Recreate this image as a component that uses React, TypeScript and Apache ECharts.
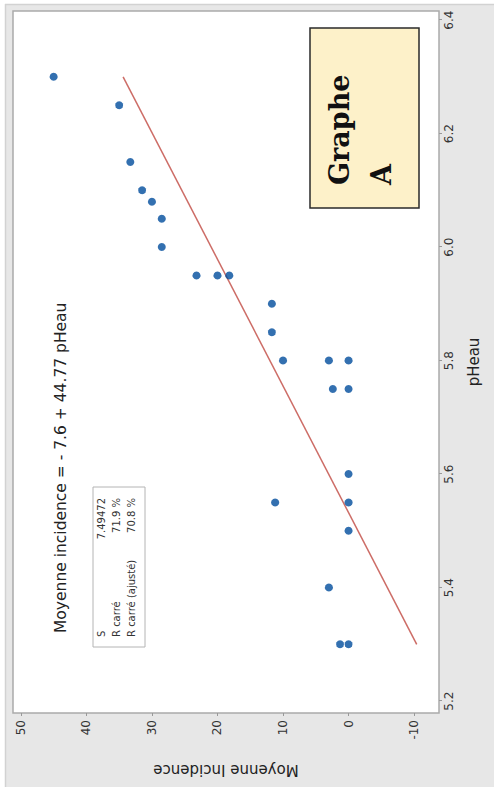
import React, { useEffect, useRef } from "react";
import * as echarts from "echarts";

// Data (pHeau vs Moyenne incidence)
const PH = [6.30, 6.25, 6.15, 6.10, 6.08, 6.05, 6.00, 5.95, 5.95, 5.95, 5.90, 5.85, 5.80, 5.80, 5.80, 5.75, 5.75, 5.60, 5.55, 5.55, 5.50, 5.40, 5.30, 5.30];
const INCIDENCE = [45, 35, 33.3, 31.5, 30, 28.5, 28.5, 23.2, 20, 18.2, 11.7, 11.7, 10, 3, 0, 2.4, 0, 0, 11.2, 0, 0, 3, 1.3, 0];
const FIT_PH = [5.3, 6.3];
const FIT_INC = [-10.4, 34.4];
const PH_TICKS = [5.2, 5.4, 5.6, 5.8, 6.0, 6.2, 6.4];
const INC_TICKS = [-10, 0, 10, 20, 30, 40, 50];
const STAT_LABELS = ["S", "R carré", "R carré (ajusté)"];
const STAT_VALUES = ["7.49472", "71.9 %", "70.8 %"];
const EQUATION = "Moyenne incidence = - 7.6 + 44.77 pHeau";
const X_NAME = "pHeau";
const Y_NAME = "Moyenne Incidence";

const W = 787;
const H = 494;
const FONT = "'DejaVu Sans', sans-serif";

export default function App() {
  const ref = useRef<HTMLDivElement>(null);

  useEffect(() => {
    if (!ref.current) return;
    const chart = echarts.init(ref.current, undefined, { renderer: "svg" });
    const points = PH.map((p, i) => [p, INCIDENCE[i]]);
    const fit = FIT_PH.map((p, i) => [p, FIT_INC[i]]);

    const statTexts: any[] = [];
    STAT_LABELS.forEach((l, i) => {
      statTexts.push({
        type: "text",
        x: 150,
        y: 101 + i * 15,
        style: { text: l, fontSize: 10, fontFamily: FONT, fill: "#333", align: "left", verticalAlign: "middle" },
      });
      statTexts.push({
        type: "text",
        x: 289,
        y: 101 + i * 15,
        style: { text: STAT_VALUES[i], fontSize: 10, fontFamily: FONT, fill: "#333", align: "right", verticalAlign: "middle" },
      });
    });

    chart.setOption({
      animation: false,
      backgroundColor: "#e7e7e7",
      grid: {
        left: 74,
        right: 11,
        top: 13,
        bottom: 55,
        show: true,
        backgroundColor: "#ffffff",
        borderColor: "#ababab",
        borderWidth: 1.5,
      },
      xAxis: {
        type: "value",
        min: 5.179,
        max: 6.416,
        axisLine: { show: false, onZero: false },
        splitLine: { show: false },
        axisTick: { show: true, length: 3, lineStyle: { color: "#999" }, customValues: PH_TICKS },
        axisLabel: {
          customValues: PH_TICKS,
          formatter: (v: number) => v.toFixed(1),
          fontSize: 12,
          fontFamily: FONT,
          color: "#333",
          margin: 4,
        },
        name: X_NAME,
        nameLocation: "middle",
        nameGap: 27,
        nameTextStyle: { fontSize: 15, fontFamily: FONT, color: "#222" },
      },
      yAxis: {
        type: "value",
        min: -13.8,
        max: 51.2,
        axisLine: { show: false, onZero: false },
        splitLine: { show: false },
        axisTick: { show: true, length: 3, lineStyle: { color: "#999" }, customValues: INC_TICKS },
        axisLabel: {
          customValues: INC_TICKS,
          formatter: (v: number) => String(Math.round(v)),
          fontSize: 12,
          fontFamily: FONT,
          color: "#333",
          margin: 7,
        },
        name: Y_NAME,
        nameLocation: "middle",
        nameGap: 49,
        nameTextStyle: { fontSize: 15, fontFamily: FONT, color: "#222" },
      },
      graphic: [
        { type: "rect", shape: { x: 0, y: 0, width: W, height: 5 }, style: { fill: "#ffffff" }, silent: true },
        { type: "rect", shape: { x: 783, y: 0, width: 4, height: H }, style: { fill: "#ffffff" }, silent: true },
        { type: "line", shape: { x1: 0, y1: 5.5, x2: 783, y2: 5.5 }, style: { stroke: "#d2d2d2", lineWidth: 1.5 }, silent: true },
        { type: "line", shape: { x1: 782.5, y1: 5, x2: 782.5, y2: H }, style: { stroke: "#d2d2d2", lineWidth: 1.5 }, silent: true },
        {
          type: "text",
          x: 154,
          y: 61,
          z: 100,
          style: { text: EQUATION, fontSize: 15.5, fontFamily: FONT, fill: "#222", align: "left", verticalAlign: "middle" },
        },
        {
          type: "rect",
          z: 100,
          shape: { x: 140, y: 93, width: 160, height: 52 },
          style: { fill: "#ffffff", stroke: "#b4b4b4", lineWidth: 1 },
        },
        ...statTexts.map((t) => ({ ...t, z: 101 })),
        {
          type: "rect",
          z: 100,
          shape: { x: 579, y: 310, width: 180, height: 109 },
          style: { fill: "#fdf1c9", stroke: "#2a2a2a", lineWidth: 1.5 },
        },
        {
          type: "text",
          z: 101,
          x: 602,
          y: 339,
          style: { text: "Graphe", fontSize: 27, fontWeight: "bold", fontFamily: "'DejaVu Serif', serif", fill: "#111", align: "left", verticalAlign: "middle" },
        },
        {
          type: "text",
          z: 101,
          x: 602,
          y: 381,
          style: { text: "A", fontSize: 27, fontWeight: "bold", fontFamily: "'DejaVu Serif', serif", fill: "#111", align: "left", verticalAlign: "middle" },
        },
      ],
      series: [
        {
          type: "line",
          data: fit,
          showSymbol: false,
          symbol: "none",
          lineStyle: { color: "#cd6d67", width: 1.5 },
          z: 3,
        },
        {
          type: "scatter",
          data: points,
          symbol: "circle",
          symbolSize: 8,
          itemStyle: { color: "#004c9c" },
          z: 4,
        },
      ],
    });
    return () => chart.dispose();
  }, []);

  return (
    <div style={{ position: "absolute", left: 0, top: 0, width: 494, height: 787, overflow: "hidden", background: "#ffffff" }}>
      <div
        style={{
          position: "absolute",
          left: 0,
          top: 0,
          width: W,
          height: H,
          transformOrigin: "0 0",
          transform: `translateY(${W}px) rotate(-90deg)`,
        }}
      >
        <div ref={ref} style={{ width: W, height: H }} />
      </div>
    </div>
  );
}
